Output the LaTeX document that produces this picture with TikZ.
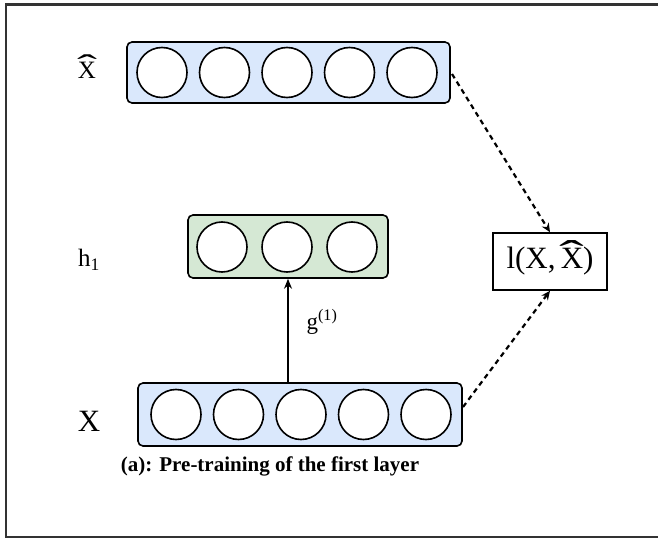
\documentclass[tikz,border=0pt]{standalone}
\usepackage{fontspec}
\setmainfont{Liberation Serif}
\usetikzlibrary{arrows.meta}
\definecolor{bluefill}{HTML}{DAE8FC}
\definecolor{greenfill}{HTML}{D5E8D4}
\definecolor{framegray}{HTML}{333333}
\newcommand{\hatX}{\leavevmode\hbox{\ooalign{X\cr\hidewidth\raisebox{0.06em}{\scalebox{2.4}[1.25]{\char"02C6}}\hidewidth\cr}}}
\tikzset{
  layerbox/.style={draw=black, line width=1.6pt, rounded corners=5pt, inner sep=0pt},
  unit/.style={draw=black, line width=1.6pt, circle, fill=white, minimum size=50pt, inner sep=0pt},
  lossbox/.style={draw=black, line width=1.6pt, fill=white, minimum width=114pt, minimum height=57pt, inner sep=0pt},
  dasharrow/.style={line width=2.2pt, dash pattern=on 5pt off 4pt, -{Stealth[length=9pt,width=8pt]}},
  solidarrow/.style={line width=1.3pt, -{Stealth[length=10pt,width=8pt]}},
  lbl/.style={inner sep=0pt}
}
\begin{document}
\begin{tikzpicture}[x=1pt,y=-1pt]
\useasboundingbox (0,0) rectangle (658,540);
\draw[framegray, line width=2.5pt] (658,4.5) -- (6,4.5) -- (6,537) -- (658,537);

% top reconstructed layer
\node[layerbox, fill=bluefill, minimum width=323pt, minimum height=61pt] (top) at (288.5,72.5) {};
\foreach \i/\x in {1/162,2/224.5,3/287,4/349.5,5/412}
  \node[unit] (t\i) at (\x,72.5) {};

% hidden layer
\node[layerbox, fill=greenfill, minimum width=200pt, minimum height=63pt] (mid) at (288,246.5) {};
\foreach \i/\x in {1/222,2/287,3/352}
  \node[unit] (m\i) at (\x,247) {};

% input layer
\node[layerbox, fill=bluefill, minimum width=324pt, minimum height=63pt] (bot) at (300,414.5) {};
\foreach \i/\x in {1/176,2/238.5,3/301,4/363.5,5/426}
  \node[unit] (b\i) at (\x,414.5) {};

% loss
\node[lossbox] (loss) at (550,261.5) {\fontsize{31}{34}\selectfont l(X,\,\hatX)};

% labels
\node[lbl] (lxh) at (87,70) {\fontsize{25}{28}\selectfont \hatX};
\node[lbl] (lh) at (89,260) {\fontsize{25}{28}\selectfont h\textsubscript{1}};
\node[lbl] (lx) at (89,421) {\fontsize{31}{33}\selectfont X};
\node[lbl] (lg) at (322,322) {\fontsize{23}{26}\selectfont g\textsuperscript{(1)}};
\node[lbl] (cap) at (270,466) {\fontsize{21}{24}\selectfont\bfseries (a): Pre-training of the first layer};

% connectors
\draw[solidarrow] (bot.north -| mid.south) -- (mid.south);
\coordinate (ts) at (452,74);
\coordinate (bs) at (463,407);
\draw[dasharrow] (ts) -- (loss.north);
\draw[dasharrow] (bs) -- (loss.south);
\end{tikzpicture}
\end{document}
